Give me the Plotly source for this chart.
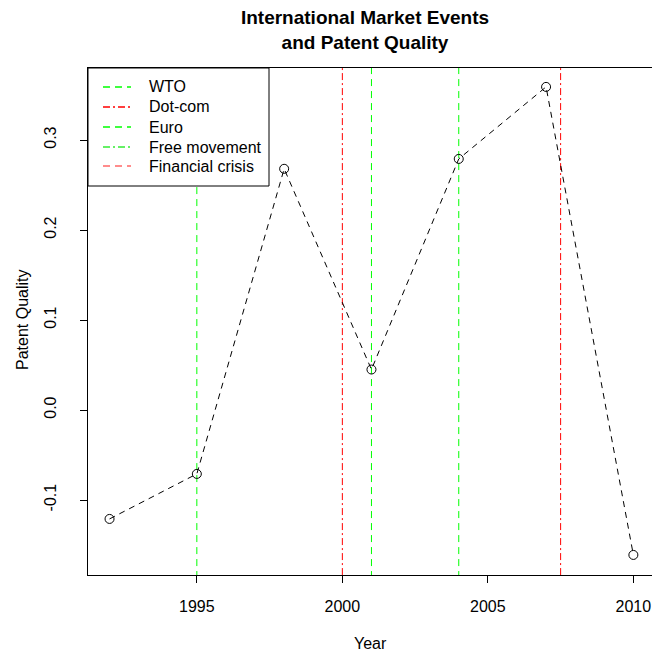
import plotly.graph_objects as go

# ---- data ----
years = [1992, 1995, 1998, 2001, 2004, 2007, 2010]
quality = [-0.121, -0.071, 0.268, 0.045, 0.279, 0.359, -0.161]

event_years = [1995, 2000, 2001, 2004, 2007.5]
event_colors = ["#00ff00", "#ff0000", "#00ff00", "#00ff00", "#ff0000"]
event_dash = ["dash", "dashdot", "dash", "dash", "dashdot"]

legend_labels = ["WTO", "Dot-com", "Euro", "Free movement", "Financial crisis"]
legend_colors = ["#00ff00", "#ff0000", "#00ff00", "rgba(0,230,0,0.8)", "rgba(255,0,0,0.6)"]
legend_dash = ["dash", "dashdot", "dash", "dashdot", "dash"]

x_ticks = [1995, 2000, 2005, 2010]
y_ticks = [-0.1, 0.0, 0.1, 0.2, 0.3]
y_tick_text = ["-0.1", "0.0", "0.1", "0.2", "0.3"]

DASH_MAP = {"dash": "7px,5px", "dashdot": "7px,3px,2px,3px"}
FONT = "Liberation Sans, Arial, sans-serif"

W, H = 652, 651
L, T, R, B = 88, 68, 0, 76
PW, PH = W - L - R, H - T - B


def px(xr):  # pixel x -> paper x
    return (xr - L) / PW


def py(yr):  # pixel y -> paper y
    return (H - B - yr) / PH


fig = go.Figure()

# vertical event lines
for xv, c, d in zip(event_years, event_colors, event_dash):
    fig.add_trace(go.Scatter(
        x=[xv, xv], y=[-1, 1], mode="lines",
        line=dict(color=c, width=1, dash=DASH_MAP[d]),
        showlegend=False, hoverinfo="skip"))

# main series
fig.add_trace(go.Scatter(
    x=years, y=quality, mode="lines+markers",
    line=dict(color="black", width=1, dash="6px,5px"),
    marker=dict(symbol="circle-open", size=9, color="black", line=dict(width=1)),
    showlegend=False))

# ---- manual legend (R-style) ----
shapes = [dict(type="rect", xref="paper", yref="paper",
               x0=px(88), x1=px(269), y0=py(186), y1=py(68),
               line=dict(color="black", width=1), fillcolor="white", layer="above")]
annotations = []
row_y = [87, 107, 127, 147, 166]
for lab, c, d, ry in zip(legend_labels, legend_colors, legend_dash, row_y):
    shapes.append(dict(type="line", xref="paper", yref="paper",
                       x0=px(103), x1=px(131), y0=py(ry), y1=py(ry),
                       line=dict(color=c, width=1.3, dash=DASH_MAP[d]), layer="above"))
    annotations.append(dict(text=lab, xref="paper", yref="paper",
                            x=px(147), y=py(ry), xanchor="left", yanchor="middle",
                            showarrow=False, font=dict(size=16, family=FONT)))

annotations.append(dict(text="Year", xref="paper", yref="paper",
                        x=px(370), y=py(643), xanchor="center", yanchor="middle",
                        showarrow=False, font=dict(size=16, family=FONT)))
annotations.append(dict(text="Patent Quality", xref="paper", yref="paper",
                        x=px(22), y=py(320), xanchor="center", yanchor="middle",
                        textangle=-90, showarrow=False, font=dict(size=16, family=FONT)))

fig.update_layout(
    width=W, height=H,
    margin=dict(l=L, r=R, t=T, b=B),
    plot_bgcolor="white", paper_bgcolor="white",
    font=dict(family=FONT, size=16, color="black"),
    title=dict(text="<b>International Market Events<br>and Patent Quality</b>",
               x=365 / W, xref="container", xanchor="center",
               y=1 - 24 / H, yref="container", yanchor="middle",
               font=dict(size=19, family=FONT, color="black")),
    showlegend=False,
    shapes=shapes,
    annotations=annotations,
)

fig.update_xaxes(
    range=[1991.26, 2010.64], tickvals=x_ticks, ticktext=[str(t) for t in x_ticks],
    showgrid=False, zeroline=False, showline=True, linecolor="black", linewidth=1,
    mirror=True, ticks="outside", ticklen=7, tickcolor="black",
    ticklabelstandoff=10, tickfont=dict(size=16))

fig.update_yaxes(
    range=[-0.1833, 0.38], tickvals=y_ticks, ticktext=y_tick_text,
    showgrid=False, zeroline=False, showline=True, linecolor="black", linewidth=1,
    ticks="outside", ticklen=7, tickcolor="black", tickangle=-90,
    ticklabelstandoff=18, tickfont=dict(size=16))

fig.write_html("out.html",
               config={"displayModeBar": False},
               post_script="document.body.style.margin='0px';document.body.style.overflow='hidden';")
